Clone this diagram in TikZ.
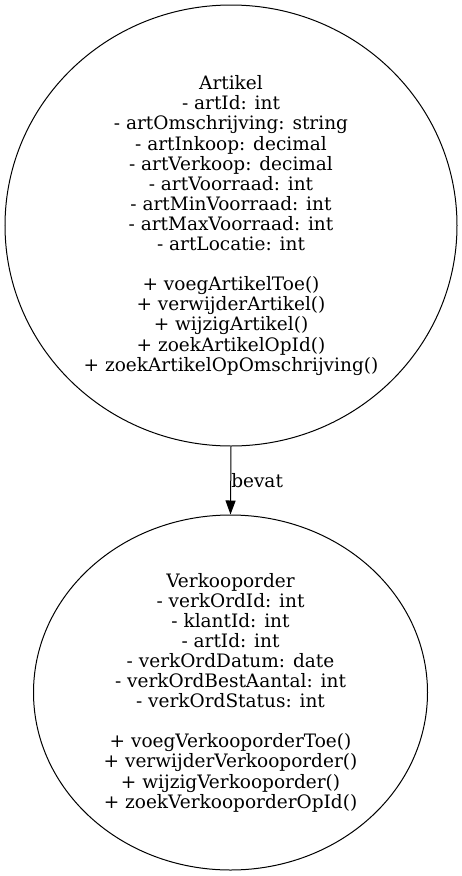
\documentclass[tikz,border=0pt]{standalone}
\usepackage{fontspec}
\setmainfont{DejaVu Serif}
\usetikzlibrary{shapes.geometric,arrows.meta}
\begin{document}
\begin{tikzpicture}[x=1pt,y=1pt,
  cls/.style={draw,line width=1pt,ellipse,inner sep=0pt,align=center,
    font=\fontsize{18.5}{20.1}\selectfont},
  conn/.style={line width=1pt,-{Triangle[length=14pt,width=10pt]}},
  lbl/.style={font=\fontsize{18.5}{20}\selectfont,anchor=west,inner sep=0pt}]
\useasboundingbox (0,0) rectangle (461,-876);
\node[cls,minimum width=452pt,minimum height=441pt] (artikel) at (231,-225.5) {Artikel\\
- artId: int\\
- artOmschrijving: string\\
- artInkoop: decimal\\
- artVerkoop: decimal\\
- artVoorraad: int\\
- artMinVoorraad: int\\
- artMaxVoorraad: int\\
- artLocatie: int\\
\mbox{}\\
+ voegArtikelToe()\\
+ verwijderArtikel()\\
+ wijzigArtikel()\\
+ zoekArtikelOpId()\\
+ zoekArtikelOpOmschrijving()};
\node[cls,minimum width=394pt,minimum height=355pt] (order) at (230.5,-692.5) {Verkooporder\\
- verkOrdId: int\\
- klantId: int\\
- artId: int\\
- verkOrdDatum: date\\
- verkOrdBestAantal: int\\
- verkOrdStatus: int\\
\mbox{}\\
+ voegVerkooporderToe()\\
+ verwijderVerkooporder()\\
+ wijzigVerkooporder()\\
+ zoekVerkooporderOpId()};
\draw[conn] (artikel.south) -- node[lbl,right=0pt] (bevat) {bevat} (order.north);
\end{tikzpicture}
\end{document}
